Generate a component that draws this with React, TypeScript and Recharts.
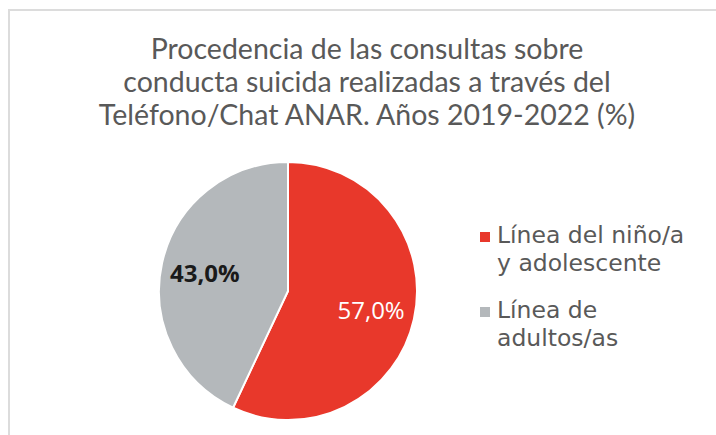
import { PieChart, Pie, Cell } from "recharts";

const categories = ["Línea del niño/a y adolescente", "Línea de adultos/as"];
const legendLines = [["Línea del niño/a", "y adolescente"], ["Línea de", "adultos/as"]];
const values = [57.0, 43.0];
const colors = ["#e8382b", "#b4b8bb"];
const labelColors = ["#ffffff", "#1a1a1a"];
const titleLines = [
  "Procedencia de las consultas sobre",
  "conducta suicida realizadas a través del",
  "Teléfono/Chat ANAR. Años 2019-2022 (%)",
];

const data = categories.map((name, i) => ({ name, value: values[i] }));

const RAD = Math.PI / 180;

function renderLabel(props: any) {
  const { cx, cy, midAngle, outerRadius, index, value } = props;
  const r = outerRadius * 0.66;
  const x = cx + r * Math.cos(-midAngle * RAD);
  const y = cy + r * Math.sin(-midAngle * RAD);
  return (
    <text
      x={x}
      y={y}
      fill={labelColors[index]}
      textAnchor="middle"
      dominantBaseline="central"
      fontSize={24}
      fontWeight={index === 1 ? 700 : 400}
      fontFamily="'Open Sans', sans-serif"
    >
      {value.toFixed(1).replace(".", ",")}%
    </text>
  );
}

export default function App() {
  return (
    <div style={{ position: "absolute", left: 0, top: 0, width: 716, height: 435, overflow: "hidden", background: "#fff" }}>
      <div
        style={{
          position: "absolute", left: 8, top: 9, width: 716, height: 440,
          border: "2px solid #dcdcdc", boxSizing: "border-box",
        }}
      />
      <div
        style={{
          position: "absolute", left: 0, top: 32, width: 734, textAlign: "center",
          fontFamily: "Lato, sans-serif", fontSize: 28.5, color: "#595959", lineHeight: "33px",
        }}
      >
        {titleLines.map((t, i) => (
          <div key={i}>{t}</div>
        ))}
      </div>
      <PieChart
        width={716}
        height={435}
        margin={{ top: 0, right: 0, bottom: 0, left: 0 }}
        style={{ position: "absolute", left: 0, top: 0 }}
      >
        <Pie
          data={data}
          dataKey="value"
          nameKey="name"
          cx={288}
          cy={291}
          outerRadius={129}
          startAngle={90}
          endAngle={-270}
          stroke="#ffffff"
          strokeWidth={2}
          label={renderLabel}
          labelLine={false}
          isAnimationActive={false}
        >
          {data.map((_, i) => (
            <Cell key={i} fill={colors[i]} />
          ))}
        </Pie>
      </PieChart>
      <div
        style={{
          position: "absolute", left: 480, top: 221, width: 236,
          fontFamily: "'DejaVu Sans', sans-serif", fontSize: 23.5, color: "#595959", lineHeight: "28px",
        }}
      >
        {legendLines.map((lines, i) => (
          <div key={i} style={{ position: "relative", paddingLeft: 17, marginBottom: 19 }}>
            <span
              style={{
                position: "absolute", left: 0, top: 11, width: 10, height: 10,
                background: colors[i],
              }}
            />
            {lines.map((l, j) => (
              <div key={j}>{l}</div>
            ))}
          </div>
        ))}
      </div>
    </div>
  );
}
